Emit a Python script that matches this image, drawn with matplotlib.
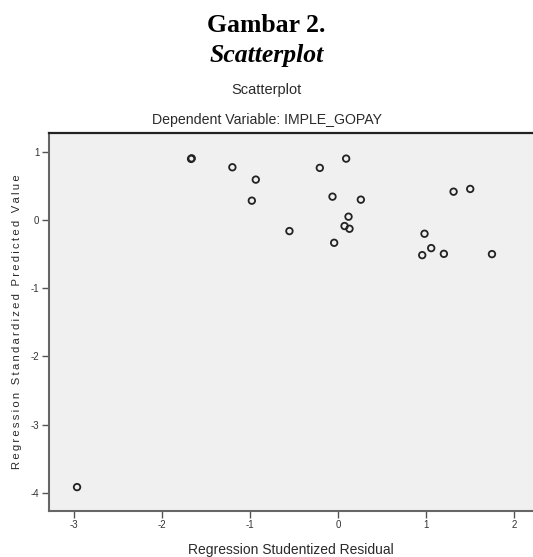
import matplotlib
matplotlib.use("Agg")
import matplotlib.pyplot as plt

residual = [-1.667, -1.660, -1.198, -0.932, -0.977, 0.094, -0.205, -0.061, 0.261,
            0.121, 0.076, 0.132, -0.550, -0.042, 1.314, 1.503, 0.984, 1.060,
            0.958, 1.204, 1.750, -2.962]
predicted = [0.897, 0.905, 0.774, 0.593, 0.284, 0.901, 0.765, 0.343, 0.299,
             0.049, -0.088, -0.128, -0.162, -0.334, 0.416, 0.456, -0.201, -0.412,
             -0.515, -0.496, -0.500, -3.918]
xticks = [-3, -2, -1, 0, 1, 2]
yticks = [-4, -3, -2, -1, 0, 1]

sans = ["Liberation Sans", "DejaVu Sans"]


def spaced(s):
    return "\u2009".join(s)


fig = plt.figure(figsize=(5.33, 5.57), dpi=100)
fig.text(0.5, 0.9535, "Gambar 2.", ha="center", va="center", family="Liberation Serif",
         fontweight="bold", fontsize=18.5)
fig.text(0.5, 0.8995, "Scatterplot", ha="center", va="center", family="Liberation Serif",
         fontstyle="italic", fontweight="bold", fontsize=18.5)
fig.text(0.5, 0.838, "Scatterplot", ha="center", va="center", family=sans,
         fontsize=10.5, color="#2a2a2a")
fig.text(0.5, 0.784, "Dependent Variable: IMPLE_GOPAY", ha="center", va="center",
         family=sans, fontsize=10.2, color="#2a2a2a")

ax = fig.add_axes([0.092, 0.083, 0.908, 0.678])
ax.set_facecolor("#f0f0f0")
ax.scatter(residual, predicted, s=22, facecolors="none", edgecolors="#222222",
           linewidths=1.3, zorder=3)
ax.set_xlim(-3.28, 2.216)
ax.set_ylim(-4.265, 1.275)
ax.set_xticks(xticks)
ax.set_yticks(yticks)
ax.set_xticklabels([str(t) for t in xticks])
ax.set_yticklabels([str(t) for t in yticks])
ax.tick_params(direction="out", length=5, width=1, colors="#555555", labelsize=7,
               labelcolor="#333333", pad=2)
for lab in ax.get_xticklabels() + ax.get_yticklabels():
    lab.set_family(sans)
for side in ["left", "bottom"]:
    ax.spines[side].set_color("#666666")
    ax.spines[side].set_linewidth(1.5)
ax.spines["top"].set_color("#222222")
ax.spines["top"].set_linewidth(1.6)
ax.spines["right"].set_visible(False)
ax.set_xlabel("Regression Studentized Residual", family=sans, fontsize=10,
              color="#2a2a2a", labelpad=9)
ax.set_ylabel(spaced("Regression Standardized Predicted Value"), family=sans,
              fontsize=8.1, color="#2a2a2a", labelpad=6)
fig.savefig("out.png", dpi=100)
